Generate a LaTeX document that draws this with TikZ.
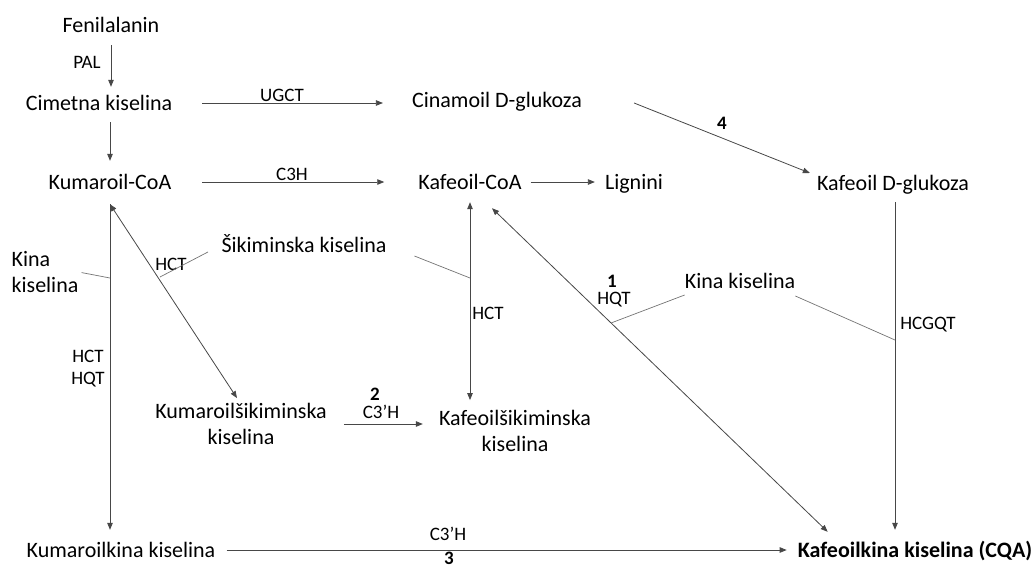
\documentclass[tikz,border=0pt]{standalone}
\usepackage{fontspec}
\setmainfont{Carlito}
\usetikzlibrary{arrows.meta}

\begin{document}
\begin{tikzpicture}
[x=1pt,y=-1pt,%
  compound/.style={font=\fontsize{22}{26}\selectfont,inner sep=0pt,text height=14pt,text depth=0pt},%
  twoLine/.style={font=\fontsize{22}{26}\selectfont,inner sep=0pt,align=center},%
  enzyme/.style={font=\fontsize{19}{22}\selectfont,inner sep=0pt},%
  stepNo/.style={font=\fontsize{19}{22}\selectfont\bfseries,inner sep=0pt},%
  reaction/.style={-{Triangle[length=7pt,width=5.5pt]},line width=0.8pt,color=black!72},%
  biReaction/.style={{Triangle[length=7pt,width=5.5pt]}-{Triangle[length=7pt,width=5.5pt]},line width=0.8pt,color=black!72},%
  branchLine/.style={-,line width=0.7pt,color=black!55}]
\useasboundingbox (0,0) rectangle (1036,568);
%% compounds
\foreach \nodename/\x/\y/\txt in {fen/111/25/Fenilalanin, cim/99/103/Cimetna kiselina,
  kumcoa/110/182/Kumaroil-CoA, cin/497/100/Cinamoil D-glukoza, kafcoa/470/182/Kafeoil-CoA,
  lig/634/182/Lignini, kafglu/893/183/Kafeoil D-glukoza, sik/304/245/Šikiminska kiselina,
  kina/740/281/Kina kiselina, kumkina/121/550/Kumaroilkina kiselina}
{
  \node (\nodename) at (\x,\y) [compound] {\txt};
}
\node (cqa) at (915,550) [compound,font=\fontsize{22}{26}\selectfont\bfseries] {Kafeoilkina kiselina (CQA)};
\node (kinaleft) at (45,272) [twoLine,align=left] {Kina\\kiselina};
\node (kumsik) at (241,424) [twoLine] {Kumaroilšikiminska\\kiselina};
\node (kafsik) at (515,431) [twoLine] {Kafeoilšikiminska\\kiselina};
%% enzymes and step numbers
\foreach \nodename/\x/\y/\txt in {pal/87/62/PAL, ugct/282/95/UGCT, cth/292/174/C3H,
  hctA/171/264/HCT, hctB/488/313/HCT, hqt/614/300/HQT, hcgqt/928/325/HCGQT,
  cpthA/381/412/C3’H, cpthB/448/534/C3’H}
{
  \node (\nodename) at (\x,\y) [enzyme] {\txt};
}
\node (hcthqt) at (88,369) [enzyme,align=center] {HCT\\HQT};
\foreach \nodename/\x/\y in {1/612/281, 2/375/394, 3/449/558, 4/722/123}
{
  \node (s\nodename) at (\x,\y) [stepNo] {\nodename};
}
%% branch points
\coordinate (b0) at (kumcoa.south |- 0,278);
\coordinate (b1) at (160,277);
\coordinate (b2) at (kafcoa.south |- 0,278);
\coordinate (b3) at (611,323);
\coordinate (b4) at ([xshift=2pt]kafglu.south |- 0,340);
%% reactions
\draw[reaction,shorten <=13pt,shorten >=9pt] (fen.south) -- (fen.south |- cim.north);
\draw[reaction,shorten <=12pt,shorten >=14pt] (kumcoa.north |- cim.south) -- (kumcoa.north);
\draw[reaction,shorten <=30pt,shorten >=29pt] (cim.east) -- (cim.east -| cin.west);
\draw[reaction,shorten <=31pt,shorten >=34pt] (kumcoa.east) -- (kumcoa.east -| kafcoa.west);
\draw[reaction,shorten <=9pt,shorten >=10pt] (kafcoa.east) -- (lig.west);
\draw[reaction] ([xshift=52pt,yshift=-3pt]cin.east) -- ([xshift=-7pt,yshift=10pt]kafglu.west);
\draw[reaction,shorten <=12pt,shorten >=13pt] ([xshift=2pt]kafglu.south) -- ([xshift=2pt]kafglu.south |- cqa.north);
\draw[biReaction,shorten <=13pt,shorten >=10pt] (kafcoa.south) -- (kafcoa.south |- kafsik.north);
\draw[biReaction] ([xshift=22pt,yshift=-19pt]kafcoa.south) -- ([xshift=30pt,yshift=11pt]cqa.north west);
\draw[biReaction] ([yshift=-15pt]kumcoa.south) -- ([xshift=-4pt,yshift=5pt]kumsik.north);
\draw[reaction,shorten >=13pt] ([yshift=-15pt]kumcoa.south) -- (kumcoa.south |- kumkina.north);
\draw[reaction,shorten <=17pt,shorten >=16pt] (kumsik.east) -- (kumsik.east -| kafsik.west);
\draw[reaction,shorten <=11pt,shorten >=11pt] (kumkina.east) -- (cqa.west);
%% side substrates
\draw[branchLine,shorten <=3pt] (kinaleft.east) -- (b0);
\draw[branchLine,shorten <=15pt] (sik.west) -- (b1);
\draw[branchLine,shorten <=30pt] (sik.east) -- (b2);
\draw[branchLine] ([yshift=-14pt]kina.west) -- (b3);
\draw[branchLine] ([yshift=-15pt]kina.east) -- (b4);
\end{tikzpicture}
\end{document}
